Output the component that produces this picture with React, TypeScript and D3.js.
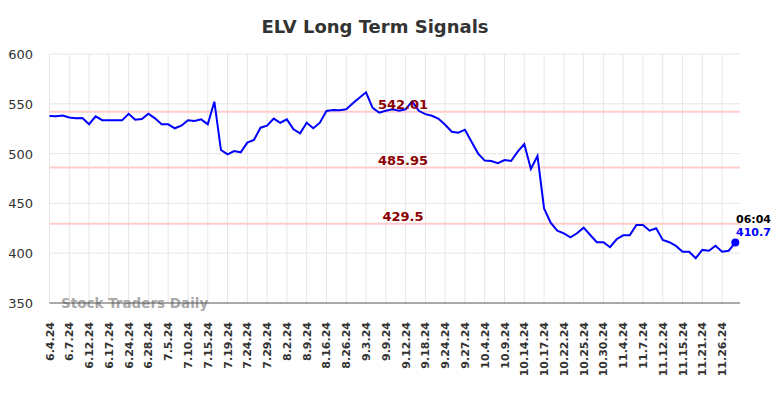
import React, { useRef, useEffect } from 'react';
import * as d3 from 'd3';

const tickLabels = [
  '6.4.24', '6.7.24', '6.12.24', '6.17.24', '6.24.24', '6.28.24', '7.5.24', '7.10.24', '7.15.24',
  '7.19.24', '7.24.24', '7.29.24', '8.2.24', '8.9.24', '8.16.24', '8.26.24', '9.3.24', '9.9.24',
  '9.12.24', '9.18.24', '9.24.24', '9.27.24', '10.4.24', '10.9.24', '10.14.24', '10.17.24',
  '10.22.24', '10.25.24', '10.30.24', '11.4.24', '11.7.24', '11.12.24', '11.15.24', '11.21.24',
  '11.26.24',
];

const prices = [
  537.7, 537.4, 538.2, 536.2, 535.4, 535.7, 529.5, 537.4, 533.5, 533.4,
  533.4, 533.4, 540.0, 534.0, 534.7, 540.0, 535.4, 529.4, 529.4, 525.4,
  528.0, 533.4, 532.7, 534.4, 529.4, 552.1, 503.6, 499.3, 502.6, 501.3,
  511.0, 513.7, 526.0, 528.0, 535.2, 531.0, 534.4, 524.4, 520.4, 531.0,
  525.4, 531.0, 542.8, 543.8, 543.5, 544.5, 550.5, 556.0, 561.5, 546.0,
  541.1, 543.0, 544.5, 543.0, 544.5, 552.5, 543.0, 539.6, 538.0, 535.0,
  529.0, 522.0, 521.0, 524.0, 512.0, 500.0, 493.0, 492.5, 490.3, 493.5,
  492.6, 502.0, 509.6, 484.5, 497.6, 445.0, 430.6, 422.6, 420.0, 416.0,
  420.0, 425.6, 418.3, 411.0, 411.0, 406.0, 414.0, 418.0, 418.0, 428.3,
  428.3, 422.6, 425.0, 413.3, 411.0, 407.3, 401.5, 401.5, 395.0, 403.3,
  402.5, 407.5, 401.5, 402.5, 410.7,
];

const levels = [542.01, 485.95, 429.5];
const yTicks = [350, 400, 450, 500, 550, 600];
const lastTime = '06:04';

const W = 784;
const H = 398;
const FONT = '"DejaVu Sans", sans-serif';

export default function App() {
  const ref = useRef<SVGSVGElement | null>(null);

  useEffect(() => {
    if (!ref.current) return;
    const svg = d3.select(ref.current);
    svg.selectAll('*').remove();

    const left = 49.5;
    const right = 740;
    const top = 54;
    const bottom = 303;

    const x = d3.scaleLinear().domain([0, prices.length - 1]).range([left, 735.3]);
    const y = d3.scaleLinear().domain([350, 600]).range([bottom, top]);

    // title
    svg.append('text')
      .attr('x', 375)
      .attr('y', 33)
      .attr('text-anchor', 'middle')
      .style('font-family', FONT)
      .style('font-size', '18px')
      .style('font-weight', 'bold')
      .attr('fill', '#333')
      .text('ELV Long Term Signals');

    // horizontal grid
    svg.append('g')
      .selectAll('line')
      .data(yTicks.filter(d => d !== 350))
      .enter()
      .append('line')
      .attr('x1', left)
      .attr('x2', right)
      .attr('y1', d => y(d))
      .attr('y2', d => y(d))
      .attr('stroke', '#e6e6e6')
      .attr('stroke-width', 1);

    // vertical grid, one per labelled date (every third session)
    const tickIdx = tickLabels.map((_, i) => i * 3);
    svg.append('g')
      .selectAll('line')
      .data(tickIdx)
      .enter()
      .append('line')
      .attr('x1', d => x(d))
      .attr('x2', d => x(d))
      .attr('y1', top)
      .attr('y2', bottom)
      .attr('stroke', '#e6e6e6')
      .attr('stroke-width', 1);

    // y labels
    svg.append('g')
      .selectAll('text')
      .data(yTicks)
      .enter()
      .append('text')
      .attr('x', 33)
      .attr('y', d => y(d) + 5)
      .attr('text-anchor', 'end')
      .style('font-family', FONT)
      .style('font-size', '13px')
      .attr('fill', '#333')
      .text(d => d);

    // signal levels
    svg.append('g')
      .selectAll('line')
      .data(levels)
      .enter()
      .append('line')
      .attr('x1', left)
      .attr('x2', right)
      .attr('y1', d => y(d))
      .attr('y2', d => y(d))
      .attr('stroke', '#ffcccc')
      .attr('stroke-width', 2);

    // watermark
    svg.append('text')
      .attr('x', 61)
      .attr('y', 308)
      .style('font-family', FONT)
      .style('font-size', '13.5px')
      .style('font-weight', 'bold')
      .attr('fill', '#aaa')
      .text('Stock Traders Daily');

    // bottom axis line
    svg.append('line')
      .attr('x1', left)
      .attr('x2', right)
      .attr('y1', bottom)
      .attr('y2', bottom)
      .attr('stroke', '#555')
      .attr('stroke-width', 1);

    // x labels
    svg.append('g')
      .selectAll('text')
      .data(tickLabels)
      .enter()
      .append('text')
      .attr('transform', (_, i) => `translate(${x(i * 3) + 4},${bottom + 19}) rotate(-90)`)
      .attr('text-anchor', 'end')
      .style('font-family', FONT)
      .style('font-size', '11px')
      .style('font-weight', 'bold')
      .attr('fill', '#333')
      .text(d => d);

    // price line
    const line = d3.line<number>()
      .x((_, i) => x(i))
      .y(d => y(d));

    svg.append('path')
      .datum(prices)
      .attr('fill', 'none')
      .attr('stroke', '#0000ff')
      .attr('stroke-width', 2)
      .attr('d', line);

    // level labels
    svg.append('g')
      .selectAll('text')
      .data(levels)
      .enter()
      .append('text')
      .attr('x', 403)
      .attr('y', d => y(d) - 3)
      .attr('text-anchor', 'middle')
      .style('font-family', FONT)
      .style('font-size', '13px')
      .style('font-weight', 'bold')
      .attr('fill', '#8b0000')
      .text(d => String(d));

    // last point
    const li = prices.length - 1;
    svg.append('circle')
      .attr('cx', x(li))
      .attr('cy', y(prices[li]))
      .attr('r', 4)
      .attr('fill', '#0000ff');

    svg.append('text')
      .attr('x', 736)
      .attr('y', 223)
      .style('font-family', FONT)
      .style('font-size', '11px')
      .style('font-weight', 'bold')
      .attr('fill', '#000')
      .text(lastTime);

    svg.append('text')
      .attr('x', 736)
      .attr('y', 236)
      .style('font-family', FONT)
      .style('font-size', '11px')
      .style('font-weight', 'bold')
      .attr('fill', '#0000ff')
      .text(String(prices[li]));
  }, []);

  return (
    <svg
      ref={ref}
      width={W}
      height={H}
      style={{ position: 'absolute', left: 0, top: 0, background: '#fff' }}
    />
  );
}
